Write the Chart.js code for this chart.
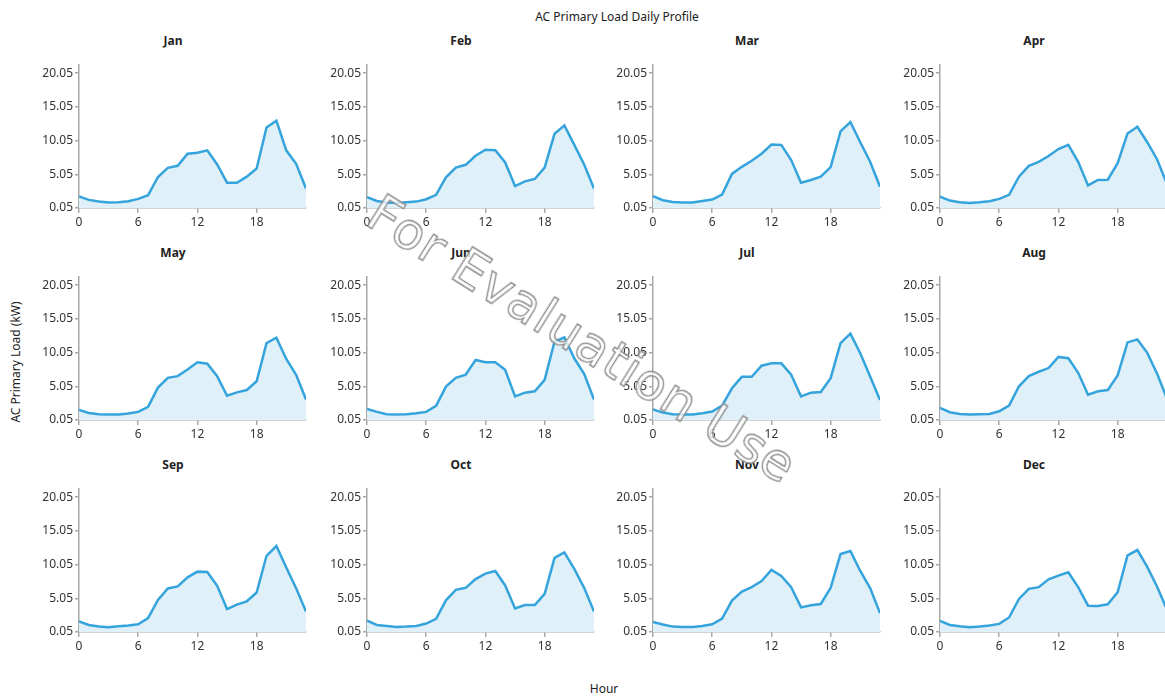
<!DOCTYPE html>
<html>
<head>
    <title>AC Primary Load Daily Profile</title>
    <script src="https://cdn.jsdelivr.net/npm/chart.js"></script>
    <style>
        body { margin: 0; width: 1165px; height: 697px; overflow: hidden; background: #fff; font-family: "Noto Sans", "Open Sans", sans-serif; position: relative; }
        .lbl { position: absolute; color: #222; font-size: 12px; white-space: nowrap; }
        .panel-title { position: absolute; font-weight: bold; font-size: 12px; color: #222; text-align: center; width: 266px; }
        canvas { position: absolute; }
        #watermark { position: absolute; left: 335px; top: 310px; font-family: "DejaVu Sans", sans-serif; font-size: 51px; color: rgba(255,255,255,0.75); -webkit-text-stroke: 1.3px #8a8a8a; transform: rotate(32deg); transform-origin: center; white-space: nowrap; pointer-events: none; z-index: 5; letter-spacing: 1px; }
    </style>
</head>
<body>
    <div class="lbl" style="left:0; width:1234px; top:8px; text-align:center;">AC Primary Load Daily Profile</div>
    <div class="lbl" style="left:15px; top:362px; transform: translate(-50%, -50%) rotate(-90deg);">AC Primary Load (kW)</div>
    <div class="lbl" style="left:0; width:1208px; top:680px; text-align:center;">Hour</div>
    <div id="watermark">For Evaluation Use</div>

    <script>
        // Datos (kW por hora)
        const months = ['Jan', 'Feb', 'Mar', 'Apr', 'May', 'Jun', 'Jul', 'Aug', 'Sep', 'Oct', 'Nov', 'Dec'];
        const hours = [0, 1, 2, 3, 4, 5, 6, 7, 8, 9, 10, 11, 12, 13, 14, 15, 16, 17, 18, 19, 20, 21, 22, 23];
        const yTicks = [0.05, 5.05, 10.05, 15.05, 20.05];
        const xTicks = [0, 6, 12, 18];

        const jan = [1.75, 1.25, 1.0, 0.85, 0.9, 1.05, 1.4, 1.95, 4.65, 6.0, 6.3, 8.1, 8.25, 8.6, 6.5, 3.8, 3.8, 4.7, 5.9, 12.0, 13.0, 8.6, 6.6, 2.95];
        const feb = [1.65, 1.1, 0.85, 0.8, 0.9, 1.0, 1.35, 2.0, 4.6, 6.05, 6.45, 7.8, 8.7, 8.6, 6.8, 3.3, 4.0, 4.35, 6.05, 11.05, 12.3, 9.4, 6.5, 2.95];
        const mar = [1.8, 1.2, 0.95, 0.85, 0.85, 1.1, 1.3, 2.05, 5.1, 6.15, 7.05, 8.1, 9.45, 9.4, 7.15, 3.8, 4.2, 4.7, 6.1, 11.4, 12.8, 9.8, 6.9, 3.2];
        const apr = [1.75, 1.15, 0.9, 0.8, 0.9, 1.05, 1.4, 2.0, 4.7, 6.3, 6.9, 7.75, 8.8, 9.4, 6.9, 3.4, 4.2, 4.25, 6.7, 11.1, 12.1, 9.8, 7.25, 3.6];
        const may = [1.55, 1.1, 0.9, 0.85, 0.85, 1.0, 1.25, 2.0, 4.85, 6.3, 6.55, 7.55, 8.6, 8.4, 6.55, 3.65, 4.15, 4.5, 5.8, 11.45, 12.25, 9.1, 6.75, 3.1];
        const jun = [1.7, 1.25, 0.9, 0.85, 0.9, 1.05, 1.25, 2.15, 5.0, 6.3, 6.75, 8.95, 8.6, 8.6, 7.5, 3.55, 4.1, 4.3, 6.0, 11.65, 12.3, 9.2, 6.9, 3.1];
        const jul = [1.6, 1.15, 0.9, 0.85, 0.85, 1.05, 1.3, 2.2, 4.75, 6.45, 6.45, 8.1, 8.45, 8.45, 6.75, 3.55, 4.1, 4.2, 6.25, 11.45, 12.85, 9.95, 6.5, 3.0];
        const aug = [1.85, 1.2, 0.95, 0.85, 0.9, 0.95, 1.35, 2.2, 5.05, 6.55, 7.2, 7.75, 9.4, 9.2, 7.05, 3.8, 4.3, 4.5, 6.65, 11.55, 12.0, 10.0, 6.9, 3.2];
        const sep = [1.6, 1.1, 0.85, 0.75, 0.9, 1.0, 1.2, 2.1, 4.8, 6.5, 6.8, 8.15, 9.0, 8.95, 6.9, 3.45, 4.1, 4.6, 5.9, 11.35, 12.8, 9.6, 6.55, 3.1];
        const oct = [1.75, 1.1, 0.95, 0.8, 0.85, 0.95, 1.3, 2.0, 4.75, 6.3, 6.6, 7.9, 8.7, 9.1, 6.95, 3.55, 4.05, 4.05, 5.7, 11.05, 11.85, 9.4, 6.6, 3.1];
        const nov = [1.55, 1.15, 0.85, 0.8, 0.8, 0.95, 1.2, 2.05, 4.7, 6.05, 6.7, 7.6, 9.25, 8.35, 6.7, 3.7, 4.0, 4.2, 6.6, 11.6, 12.05, 9.1, 6.55, 2.85];
        const dec = [1.7, 1.1, 0.9, 0.75, 0.85, 1.0, 1.25, 2.2, 4.95, 6.45, 6.7, 7.85, 8.4, 8.9, 6.7, 3.95, 3.9, 4.15, 5.95, 11.4, 12.2, 9.7, 6.75, 3.35];

        const series = [jan, feb, mar, apr, may, jun, jul, aug, sep, oct, nov, dec];

        const axisLefts = [79, 367, 653, 940];
        const rowTops = [56, 268, 480];
        const tickFont = { family: '"Noto Sans", "Open Sans", sans-serif', size: 12 };

        months.forEach((m, i) => {
            const col = i % 4, row = Math.floor(i / 4);
            const left = axisLefts[col] - 39;

            const t = document.createElement('div');
            t.className = 'panel-title';
            t.textContent = m;
            t.style.left = left + 'px';
            t.style.top = (rowTops[row] - 24) + 'px';
            document.body.appendChild(t);

            const c = document.createElement('canvas');
            c.width = 272;
            c.height = 180;
            c.style.left = left + 'px';
            c.style.top = rowTops[row] + 'px';
            document.body.appendChild(c);

            new Chart(c.getContext('2d'), {
                type: 'line',
                data: {
                    datasets: [{
                        data: hours.map((h, k) => ({ x: h, y: series[i][k] })),
                        borderColor: '#36a4dc',
                        backgroundColor: '#dff0f8',
                        borderWidth: 2.5,
                        fill: 'start',
                        pointRadius: 0,
                        tension: 0
                    }]
                },
                options: {
                    responsive: false,
                    animation: false,
                    layout: { padding: { top: 0, right: 6, left: 0, bottom: 0 } },
                    plugins: { legend: { display: false }, tooltip: { enabled: false }, title: { display: false } },
                    scales: {
                        x: {
                            type: 'linear', min: 0, max: 23,
                            afterBuildTicks: s => { s.ticks = xTicks.map(v => ({ value: v })); },
                            afterFit: s => { s.height = 28; },
                            grid: { drawOnChartArea: false, drawTicks: true, tickLength: 5, color: '#a8a8a8', lineWidth: 1.5 },
                            border: { color: '#a8a8a8', width: 1.5 },
                            ticks: { color: '#333', font: tickFont, padding: 2, maxRotation: 0, autoSkip: false }
                        },
                        y: {
                            min: 0.05, max: 21.22,
                            afterBuildTicks: s => { s.ticks = yTicks.map(v => ({ value: v })); },
                            afterFit: s => { s.width = 39; },
                            grid: { drawOnChartArea: false, drawTicks: true, tickLength: 4, color: '#a8a8a8', lineWidth: 1.5 },
                            border: { color: '#a8a8a8', width: 1.5 },
                            ticks: { color: '#333', font: tickFont, padding: 2, callback: v => Number(v).toFixed(2) }
                        }
                    }
                }
            });
        });
    </script>
</body>
</html>
